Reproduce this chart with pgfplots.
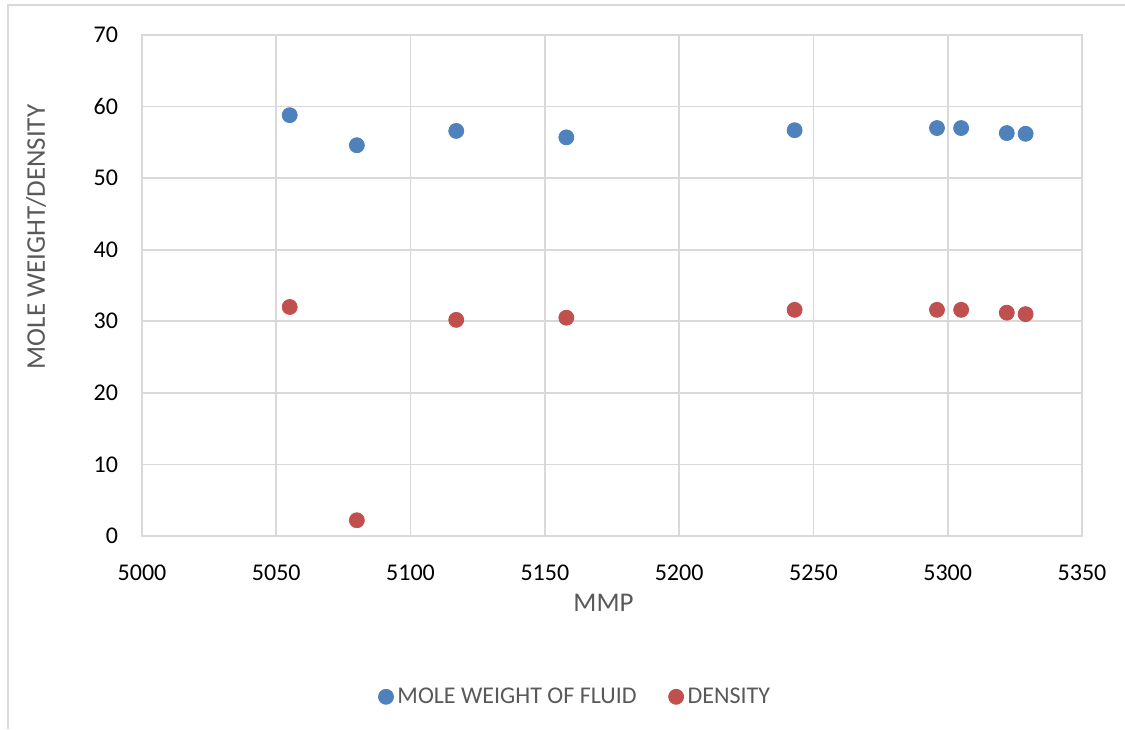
\documentclass[border=0pt]{standalone}
\usepackage{fontspec}
\setmainfont{Carlito}
\usepackage{pgfplots}
\pgfplotsset{compat=1.18}
\definecolor{mwblue}{HTML}{4F81BD}
\definecolor{dred}{HTML}{C0504D}
\definecolor{gridc}{HTML}{D9D9D9}
\definecolor{txtc}{HTML}{595959}
\begin{document}
\begin{tikzpicture}
\path[use as bounding box] (0,0) rectangle (562.5pt,364.5pt);
\draw[gridc, line width=0.8pt] (4pt,0) -- (4pt,362pt) -- (562.5pt,362pt);
\begin{axis}[
  at={(71pt,96.5pt)}, anchor=south west,
  scale only axis, width=470pt, height=250.5pt,
  xmin=5000, xmax=5350, ymin=0, ymax=70,
  xtick={5000,5050,...,5350}, ytick={0,10,...,70},
  grid=major, major grid style={gridc, line width=0.85pt},
  axis line style={gridc, line width=0.85pt},
  major tick length=0pt,
  /pgf/number format/assume math mode=true,
  /pgf/number format/1000 sep={},
  tick label style={font=\fontsize{12}{14}\selectfont, text=black},
  xticklabel style={yshift=-11pt},
  yticklabel style={xshift=-8.5pt},
  xlabel={MMP}, ylabel={MOLE WEIGHT/DENSITY},
  label style={font=\fontsize{13.5}{16}\selectfont, text=txtc},
  xlabel style={at={(axis description cs:0.491,-0.134)}, anchor=center},
  ylabel style={at={(axis description cs:-0.1128,0.597)}, anchor=center},
  legend style={at={(axis description cs:0.462,-0.321)}, anchor=center, draw=none, font=\fontsize{12}{14}\selectfont, text=txtc, /tikz/every even column/.append style={column sep=14pt}},
  legend columns=2,
  legend cell align=left,
  clip=false,
]
\addplot[only marks, mark=*, mark size=3.75pt, mwblue, mark options={draw=mwblue, fill=mwblue}] coordinates {
(5055,58.8) (5080,54.6) (5117,56.6) (5158,55.7) (5243,56.7) (5296,57.0) (5305,57.0) (5322,56.3) (5329,56.2)
};
\addlegendentry{MOLE WEIGHT OF FLUID}
\addplot[only marks, mark=*, mark size=3.75pt, dred, mark options={draw=dred, fill=dred}] coordinates {
(5055,32.0) (5080,2.2) (5117,30.2) (5158,30.5) (5243,31.6) (5296,31.6) (5305,31.6) (5322,31.2) (5329,31.0)
};
\addlegendentry{DENSITY}
\end{axis}
\end{tikzpicture}
\end{document}
